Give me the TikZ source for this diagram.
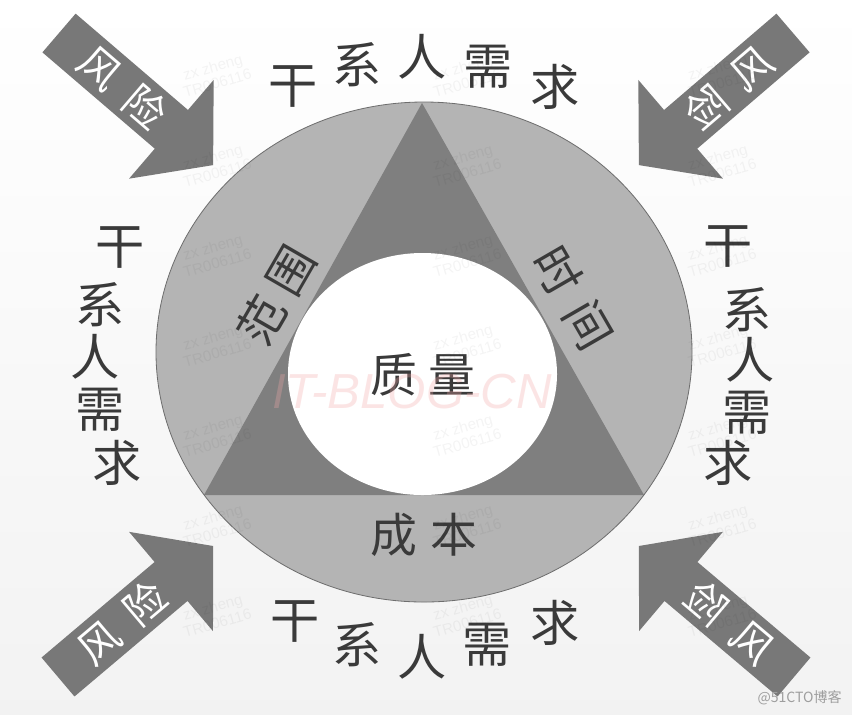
\documentclass[tikz,border=0pt]{standalone}
\usepackage{fontspec}
\newfontfamily\cjk{Noto Sans CJK SC}
\newfontfamily\latsans{Liberation Sans}
\definecolor{labc}{HTML}{3A3A3A}
\definecolor{circc}{HTML}{B4B4B4}
\definecolor{triac}{HTML}{7F7F7F}
\definecolor{arrc}{HTML}{787878}
\definecolor{edgec}{HTML}{6E6E6E}
\definecolor{pinkc}{HTML}{F2A8A8}
\begin{document}
\begin{tikzpicture}[x=0.03cm,y=-0.03cm,
  lab/.style={font=\cjk\fontsize{42}{42}\selectfont, text=labc, inner sep=0pt},
  inlab/.style={font=\cjk\fontsize{40}{40}\selectfont, text=labc, inner sep=0pt},
  risktext/.style={font=\cjk\fontsize{35}{35}\selectfont, text=white, inner sep=0pt},
  wm/.style={font=\latsans\fontsize{13}{14}\selectfont, text=black, text opacity=0.045, rotate=16, align=center, inner sep=0pt}]
\useasboundingbox (0,0) rectangle (852,714);
\fill[top color=white, bottom color=black!5] (0,0) rectangle (852,714);

% big circle, triangle, inner white ellipse
\coordinate (C) at (424,352);
\fill[circc] (C) ellipse [x radius=268, y radius=250];
\coordinate (apex) at (422,103);
\coordinate (bl) at (204,495);
\coordinate (br) at (644,495);
\fill[triac] (apex) -- (br) -- (bl) -- cycle;
\coordinate (Q) at (422.5,374);
\fill[white] (Q) ellipse [x radius=134.5, y radius=121];
\draw[edgec, line width=0.7pt] (C) ellipse [x radius=268, y radius=250];

% inner labels
\node[inlab] (quality) at (423,375) {质\kern10pt 量};
\node[inlab] (cost) at (424,535) {成\kern11pt 本};
\node[inlab, rotate=60] (scope) at (276,295) {范\kern9pt 围};
\node[inlab, rotate=-60] (time) at (573,298) {时\kern13pt 间};

% stakeholder labels
\foreach \ch/\x/\y [count=\i] in {干/293/87, 系/357/65, 人/422/57, 需/488/67, 求/555/87}
  \node[lab] (t\i) at (\x,\y) {\ch};
\foreach \ch/\x/\y [count=\i] in {干/295/622, 系/357/645, 人/422/657, 需/487/645, 求/555/623}
  \node[lab] (b\i) at (\x,\y) {\ch};
\foreach \ch/\x/\y [count=\i] in {干/120/248, 系/100/305, 人/95/357, 需/100/410, 求/117/463}
  \node[lab] (l\i) at (\x,\y) {\ch};
\foreach \ch/\x/\y [count=\i] in {干/728/247, 系/747/310, 人/750/360, 需/747/413, 求/728/463}
  \node[lab] (r\i) at (\x,\y) {\ch};

% risk arrows
\begin{scope}[shift={(59,33)}, rotate=-40.6, transform shape]
  \fill[arrc] (0,-25.5) -- (148,-25.5) -- (148,-65) -- (203,0) -- (148,65) -- (148,25.5) -- (0,25.5) -- cycle;
  \node[risktext] (riskTL) at (84,0) {风\kern16pt 险};
\end{scope}
\begin{scope}[shift={(793,33)}, xscale=-1, rotate=-40.6, transform shape]
  \fill[arrc] (0,-25.5) -- (148,-25.5) -- (148,-65) -- (203,0) -- (148,65) -- (148,25.5) -- (0,25.5) -- cycle;
  \node[risktext] (riskTR) at (84,0) {风\kern16pt 险};
\end{scope}
\begin{scope}[shift={(58,677)}, rotate=40.2, transform shape]
  \fill[arrc] (0,-25.5) -- (148,-25.5) -- (148,-65) -- (203,0) -- (148,65) -- (148,25.5) -- (0,25.5) -- cycle;
  \node[risktext] (riskBL) at (84,0) {风\kern16pt 险};
\end{scope}
\begin{scope}[shift={(794,677)}, xscale=-1, rotate=40.2, transform shape]
  \fill[arrc] (0,-25.5) -- (148,-25.5) -- (148,-65) -- (203,0) -- (148,65) -- (148,25.5) -- (0,25.5) -- cycle;
  \node[risktext] (riskBR) at (84,0) {风\kern16pt 险};
\end{scope}

% watermarks
\foreach \wx in {215,465,720}
  \foreach \wy in {75,165,255,345,435,525,615}
    \node[wm] at (\wx,\wy) {zx zheng\\TR006116};
\node[font=\latsans\itshape\fontsize{42}{42}\selectfont, text=pinkc, text opacity=0.3, inner sep=0pt] (itblog) at (412,392) {IT-BLOG-CN};
\node[font=\cjk\fontsize{12}{12}\selectfont, text=black!38, anchor=east, inner sep=0pt] (cto) at (842,698) {@51CTO博客};
\end{tikzpicture}
\end{document}
